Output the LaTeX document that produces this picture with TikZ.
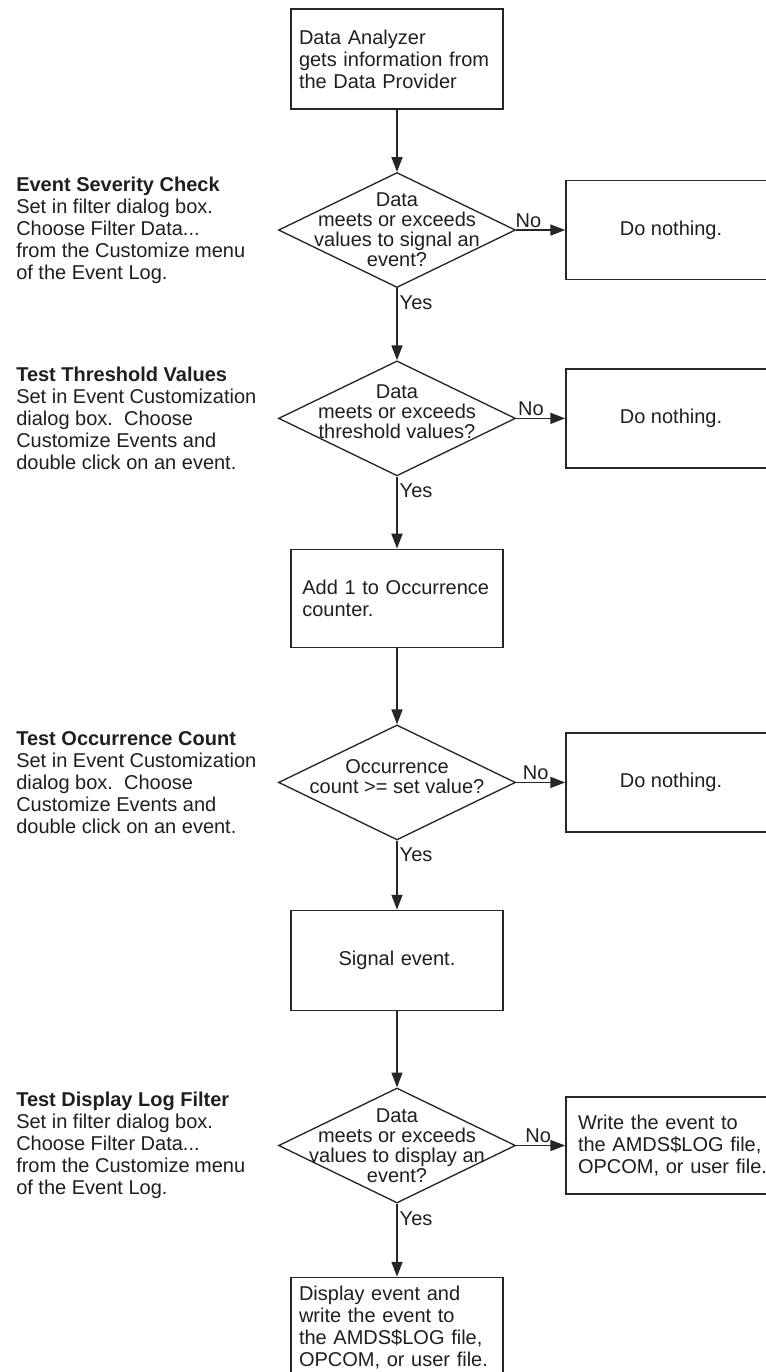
\documentclass[tikz,border=0pt]{standalone}
\usepackage{fontspec}
\setmainfont{Liberation Sans}
\usetikzlibrary{positioning,arrows.meta,shapes.geometric}
\hyphenpenalty=10000
\exhyphenpenalty=10000

\begin{document}
\begin{tikzpicture}[
  node distance=54pt and 36.75pt,
  every node/.style={font=\fontsize{15pt}{16.5pt}\selectfont,text=black!88},
  proc/.style={draw=black!85,line width=1.3pt,minimum height=75pt,inner xsep=6pt,text width=147pt,align=left},
  side/.style={draw=black!85,line width=1.3pt,minimum height=74.25pt,minimum width=157.5pt,align=center},
  dec/.style={draw=black!85,line width=1pt,diamond,inner sep=0pt,minimum width=177.75pt,minimum height=86.25pt},
  dtxt/.style={align=center,font=\fontsize{15pt}{15pt}\selectfont},
  note/.style={anchor=west,align=left,inner sep=0pt},
  lbl/.style={inner sep=1.5pt},
  ar/.style={-{Triangle[length=3.9mm,width=2.9mm]},draw=black!85,line width=1.1pt}]
\useasboundingbox (0,0) rectangle (574.5pt,-1029pt);
\fill[white] (0,0) rectangle (574.5pt,-1029pt);
% ---- main chain ----
\node[proc] (src) at (297.75pt,-44.25pt) {Data Analyzer\\gets information from\\the Data Provider};
\node[dec,below=46.5pt of src,label={[dtxt]center:Data\\meets or exceeds\\values to signal an\\event?}] (sev) {};
\node[dec,below=of sev,label={[dtxt,yshift=5pt]center:Data\\meets or exceeds\\threshold values?}] (thr) {};
\node[proc,below=of thr,minimum height=73.5pt,inner xsep=8.5pt,text width=142pt] (cnt) {Add 1 to Occurrence\\counter.};
\node[dec,below=57pt of cnt,label={[dtxt,yshift=4pt]center:Occurrence\\count >= set value?}] (occ) {};
\node[proc,below=51.75pt of occ,align=center] (sig) {Signal event.};
\node[dec,below=57pt of sig,label={[dtxt]center:Data\\meets or exceeds\\values to display an\\event?}] (flt) {};
\node[proc,below=54.75pt of flt] (show) {Display event and\\write the event to\\the AMDS\$LOG file,\\OPCOM, or user file.};
% ---- no branches ----
\node[side,right=of sev] (sevno) {Do nothing.};
\node[side,right=of thr] (thrno) {Do nothing.};
\node[side,right=of occ] (occno) {Do nothing.};
\node[side,right=of flt,align=left,text width=152pt,inner xsep=9pt,minimum height=72.75pt] (wr) {Write the event to\\the AMDS\$LOG file,\\OPCOM, or user file.};
% ---- notes on the left ----
\coordinate (mrg) at (12pt,0);
\node[note] (sevn) at (sev -| mrg) {\textbf{Event Severity Check}\\Set in filter dialog box.\\Choose Filter Data...\\from the Customize menu\\of the Event Log.};
\node[note] (thrn) at (thr -| mrg) {\textbf{Test Threshold Values}\\Set in Event Customization\\dialog box.\ \ Choose\\Customize Events and\\double click on an event.};
\node[note] (occn) at (occ -| mrg) {\textbf{Test Occurrence Count}\\Set in Event Customization\\dialog box.\ \ Choose\\Customize Events and\\double click on an event.};
\node[note] (fltn) at (flt -| mrg) {\textbf{Test Display Log Filter}\\Set in filter dialog box.\\Choose Filter Data...\\from the Customize menu\\of the Event Log.};
% ---- arrows ----
\draw[ar] (src)--(sev);
\draw[ar] (sev)-- node[lbl,right,pos=.2] {Yes} (thr);
\draw[ar] (thr)-- node[lbl,right,pos=.2] {Yes} (cnt);
\draw[ar] (cnt)--(occ);
\draw[ar] (occ)-- node[lbl,right,pos=.2] {Yes} (sig);
\draw[ar] (sig)--(flt);
\draw[ar] (flt)-- node[lbl,right,pos=.2] {Yes} (show);
\draw[ar] (sev)-- node[lbl,above,pos=.25] {No} (sevno);
\draw[ar] (thr)-- node[lbl,above,pos=.3] {No} (thrno);
\draw[ar] (occ)-- node[lbl,above,pos=.4] {No} (occno);
\draw[ar] (flt)-- node[lbl,above,pos=.45] {No} (wr);
\end{tikzpicture}
\end{document}
